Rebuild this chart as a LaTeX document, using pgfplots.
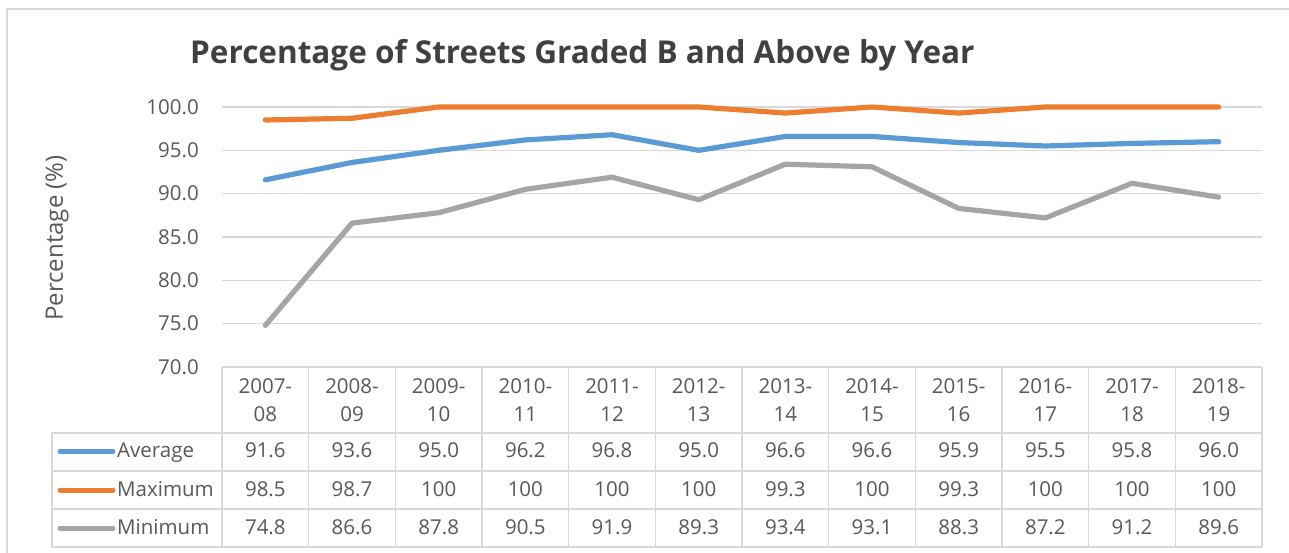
\documentclass[border=0pt]{standalone}
\usepackage{pgfplots}
\pgfplotsset{compat=1.18}
\usepackage{pgfplotstable}
\usepackage{fontspec}
\setmainfont{Open Sans}
\definecolor{cavg}{HTML}{5B9BD5}
\definecolor{cmax}{HTML}{ED7D31}
\definecolor{cmin}{HTML}{A5A5A5}
\definecolor{gridc}{HTML}{D9D9D9}
\definecolor{txt}{HTML}{595959}
\definecolor{ttl}{HTML}{404040}
\pgfplotstableread{
i avg max min
0 91.6 98.5 74.8
1 93.6 98.7 86.6
2 95.0 100 87.8
3 96.2 100 90.5
4 96.8 100 91.9
5 95.0 100 89.3
6 96.6 99.3 93.4
7 96.6 100 93.1
8 95.9 99.3 88.3
9 95.5 100 87.2
10 95.8 100 91.2
11 96.0 100 89.6
}\data
\newcommand\tfont{\fontsize{20.5}{23}\selectfont}
\begin{document}
\begin{tikzpicture}[x=1pt,y=1pt]
\fill[white] (0,0) rectangle (1289,-553);
\useasboundingbox (0,0) rectangle (1289,-553);
\draw[gridc, line width=1.5] (7,-553) -- (7,-9) -- (1289,-9);
\node[anchor=base west, font=\fontsize{31.5}{36}\selectfont\bfseries, text=ttl, inner sep=0] at (190,-64) {Percentage of Streets Graded B and Above by Year};
\node[rotate=90, font=\fontsize{24}{28}\selectfont, text=txt, inner sep=0] at (57,-238) {Percentage (\%)};
\begin{axis}[at={(222pt,-367pt)}, anchor=south west, scale only axis,
  width=1040pt, height=260pt, xmin=-0.5, xmax=11.5, ymin=70, ymax=100,
  ytick={70,75,...,100}, xtick=\empty, axis line style={draw=none},
  ymajorgrids, grid style={gridc, line width=1.5pt}, major tick length=0pt,
  yticklabel style={font=\tfont, text=txt, inner sep=0pt, xshift=-23pt,
    /pgf/number format/fixed, /pgf/number format/fixed zerofill,
    /pgf/number format/precision=1, /pgf/number format/assume math mode=true},
  clip=false]
\addplot[cmin, line width=5.2pt, line join=round, line cap=round] table[x=i,y=min] {\data};
\addplot[cavg, line width=5.2pt, line join=round, line cap=round] table[x=i,y=avg] {\data};
\addplot[cmax, line width=5.2pt, line join=round, line cap=round] table[x=i,y=max] {\data};
\end{axis}
% table grid
\foreach \k in {0,...,12} \draw[gridc, line width=1.5] ({222+\k*86.6667},-367) -- ({222+\k*86.6667},-547);
\foreach \yy in {433,471,509,547} \draw[gridc, line width=1.5] (52,-\yy) -- (1262,-\yy);
\draw[gridc, line width=1.5] (52,-432.25) -- (52,-547.75);
\foreach \a/\b [count=\k from 0] in {2007/08,2008/09,2009/10,2010/11,2011/12,2012/13,2013/14,2014/15,2015/16,2016/17,2017/18,2018/19} {
  \node[anchor=base, font=\tfont, text=txt, inner sep=0] at ({265.33+\k*86.6667},-393) {\a-};
  \node[anchor=base, font=\tfont, text=txt, inner sep=0] at ({265.33+\k*86.6667},-421) {\b};
}
\foreach \v [count=\k from 0] in {91.6,93.6,95.0,96.2,96.8,95.0,96.6,96.6,95.9,95.5,95.8,96.0}
  \node[anchor=base, font=\tfont, text=txt, inner sep=0] at ({265.33+\k*86.6667},-457) {\v};
\foreach \v [count=\k from 0] in {98.5,98.7,100,100,100,100,99.3,100,99.3,100,100,100}
  \node[anchor=base, font=\tfont, text=txt, inner sep=0] at ({265.33+\k*86.6667},-496) {\v};
\foreach \v [count=\k from 0] in {74.8,86.6,87.8,90.5,91.9,89.3,93.4,93.1,88.3,87.2,91.2,89.6}
  \node[anchor=base, font=\tfont, text=txt, inner sep=0] at ({265.33+\k*86.6667},-534) {\v};
% legend keys
\draw[cavg, line width=5, line cap=round] (60,-451.5) -- (113,-451.5);
\draw[cmax, line width=5, line cap=round] (60,-490) -- (113,-490);
\draw[cmin, line width=5, line cap=round] (60,-528) -- (113,-528);
\node[anchor=base west, font=\tfont, text=txt, inner sep=0] at (117,-457) {Average};
\node[anchor=base west, font=\tfont, text=txt, inner sep=0] at (117,-496) {Maximum};
\node[anchor=base west, font=\tfont, text=txt, inner sep=0] at (117,-534) {Minimum};
\end{tikzpicture}
\end{document}
